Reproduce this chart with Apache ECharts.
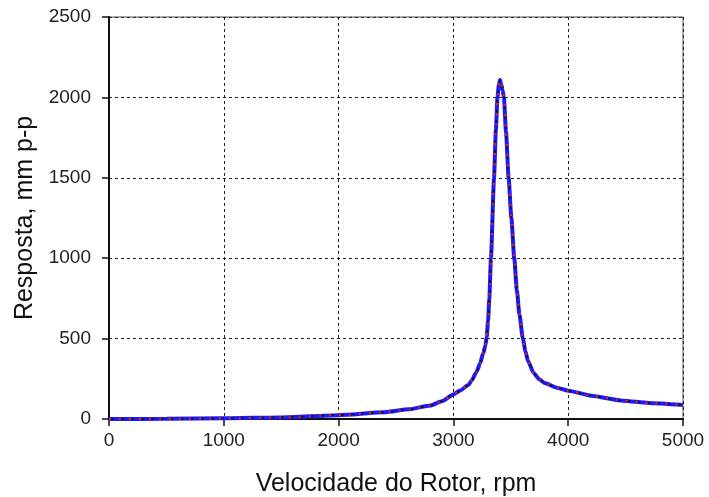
<!DOCTYPE html>
<html>
<head>
<meta charset="utf-8">
<script src="https://cdn.jsdelivr.net/npm/echarts@6/dist/echarts.min.js"></script>
<style>
  html, body { margin: 0; padding: 0; background: #fff; }
  #chart { width: 709px; height: 497px; }
</style>
</head>
<body>
<div id="chart"></div>
<script>
// rotor speed (rpm) and response (mm p-p)
const rpm = [0, 500, 1000, 1500, 2000, 2400, 2613, 2800, 2900, 3000, 3060, 3130, 3159, 3200, 3232,
  3260, 3278, 3290, 3302, 3313, 3327, 3354, 3370, 3384, 3396, 3406, 3416, 3428, 3440, 3458, 3481,
  3505, 3530, 3553, 3575, 3605, 3628, 3650, 3700, 3750, 3800, 3900, 4000, 4200, 4477, 4700, 5000]
const resposta = [0, 1, 4, 10, 24, 42, 60, 84, 110, 152, 178, 211, 240, 290, 345,
  410, 455, 510, 610, 750, 1000, 1500, 1800, 2000, 2080, 2108, 2085, 2045, 2000, 1787, 1500,
  1250, 1000, 800, 650, 500, 420, 360, 285, 245, 222, 195, 176, 145, 114, 100, 87]
const xTicks = [0, 1000, 2000, 3000, 4000, 5000]
const yTicks = [0, 500, 1000, 1500, 2000, 2500]

const pts = rpm.map((r, i) => [r, resposta[i]])
const font = 'Liberation Sans, Arial, sans-serif'

const chart = echarts.init(document.getElementById('chart'))
const line = (color, width, dash, z) => ({
  type: 'line',
  data: pts,
  showSymbol: false,
  smooth: 0.2,
  smoothMonotone: 'x',
  z,
  lineStyle: { color, width, type: dash }
})

chart.setOption({
  animation: false,
  grid: {
    left: 109, right: 26, top: 17, bottom: 78,
    outerBoundsMode: 'none',
    show: true, borderColor: '#8c8c8c', borderWidth: 1.5
  },
  xAxis: {
    type: 'value',
    min: xTicks[0], max: xTicks[xTicks.length - 1], interval: 1000,
    name: 'Velocidade do Rotor, rpm',
    nameLocation: 'middle', nameGap: 53,
    nameTextStyle: { fontFamily: font, fontSize: 25, color: '#111' },
    axisLine: { lineStyle: { color: '#111', width: 2 } },
    axisTick: { show: true, inside: false, length: 7, lineStyle: { color: '#111', width: 1.5 } },
    axisLabel: { fontFamily: font, fontSize: 19, color: '#222', margin: 12, formatter: v => String(v) },
    splitLine: { show: true, lineStyle: { color: '#222', type: [3, 3], width: 1 } }
  },
  yAxis: {
    type: 'value',
    min: yTicks[0], max: yTicks[yTicks.length - 1], interval: 500,
    name: 'Resposta, mm p-p',
    nameLocation: 'middle', nameGap: 68,
    nameTextStyle: { fontFamily: font, fontSize: 25, color: '#111' },
    axisLine: { show: true, lineStyle: { color: '#111', width: 2 } },
    axisTick: { show: true, inside: false, length: 7, lineStyle: { color: '#111', width: 1.5 } },
    axisLabel: { fontFamily: font, fontSize: 19, color: '#222', margin: 18, formatter: v => String(v) },
    splitLine: { show: true, lineStyle: { color: '#222', type: [3, 3], width: 1 } }
  },
  series: [
    line('#1a1aff', 4, 'solid', 3),
    line('#111', 1.5, [5, 5], 4),
    line('#ff2020', 2, [2, 8], 5)
  ]
})
</script>
</body>
</html>
